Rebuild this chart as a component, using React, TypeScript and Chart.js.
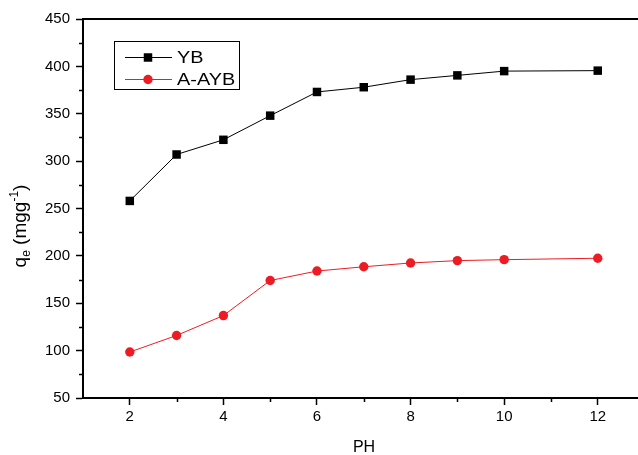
import React, { useEffect, useRef } from 'react';
import { Chart, registerables } from 'chart.js';

Chart.register(...registerables);

const phValues = [2, 3, 4, 5, 6, 7, 8, 9, 10, 12];
const ybValues = [258, 307, 322.5, 348, 373, 378, 386, 390.5, 395, 395.5];
const aaybValues = [98.5, 116, 137, 174, 184, 188.5, 192.5, 195, 196, 197.5];
const seriesNames = ['YB', 'A-AYB'];
const xTickValues = [2, 4, 6, 8, 10, 12];
const xMinorTickValues = [3, 5, 7, 9, 11];
const yMinorTickValues = [75, 125, 175, 225, 275, 325, 375, 425];
const xTitle = 'PH';

const FONT = '"Liberation Sans", Arial, sans-serif';
const RED = 'rgb(237,28,36)';

const decorPlugin = {
  id: 'decor',
  afterDraw(chart: any) {
    const { ctx, chartArea, scales } = chart;
    const xs = scales.x;
    const ys = scales.y;
    ctx.save();
    // top frame line
    ctx.strokeStyle = '#000';
    ctx.lineWidth = 2;
    ctx.beginPath();
    ctx.moveTo(chartArea.left - 1, chartArea.top);
    ctx.lineTo(chart.width, chartArea.top);
    ctx.stroke();
    // minor ticks
    ctx.lineWidth = 1.5;
    ctx.beginPath();
    xMinorTickValues.forEach((v) => {
      const px = Math.round(xs.getPixelForValue(v)) + 0.5;
      ctx.moveTo(px, chartArea.bottom);
      ctx.lineTo(px, chartArea.bottom + 4);
    });
    yMinorTickValues.forEach((v) => {
      const py = Math.round(ys.getPixelForValue(v)) + 0.5;
      ctx.moveTo(chartArea.left - 4, py);
      ctx.lineTo(chartArea.left, py);
    });
    ctx.stroke();

    // x title
    ctx.fillStyle = '#000';
    ctx.font = `16px ${FONT}`;
    ctx.textAlign = 'center';
    ctx.textBaseline = 'alphabetic';
    ctx.fillText(xTitle, 364, 452);

    // y title: q_e (mgg^-1)
    const big = `19px ${FONT}`;
    const small = `12px ${FONT}`;
    const parts = [
      { t: 'q', f: big, dy: 0 },
      { t: 'e', f: small, dy: 4 },
      { t: ' (mgg', f: big, dy: 0 },
      { t: '-1', f: small, dy: -8 },
      { t: ')', f: big, dy: 0 },
    ];
    let total = 0;
    parts.forEach((p) => {
      ctx.font = p.f;
      total += ctx.measureText(p.t).width;
    });
    ctx.save();
    ctx.translate(26, 226);
    ctx.rotate(-Math.PI / 2);
    ctx.textAlign = 'left';
    let cx = -total / 2;
    parts.forEach((p) => {
      ctx.font = p.f;
      ctx.fillText(p.t, cx, p.dy);
      cx += ctx.measureText(p.t).width;
    });
    ctx.restore();

    // legend
    const lx = 114.5, ly = 41.5, lw = 125, lh = 48;
    ctx.fillStyle = '#fff';
    ctx.fillRect(lx, ly, lw, lh);
    ctx.strokeStyle = '#000';
    ctx.lineWidth = 1;
    ctx.strokeRect(lx, ly, lw, lh);
    const rows = [57, 79];
    chart.data.datasets.forEach((ds: any, i: number) => {
      const y = rows[i];
      ctx.strokeStyle = ds.borderColor;
      ctx.lineWidth = 1;
      ctx.beginPath();
      ctx.moveTo(125, y + 0.5);
      ctx.lineTo(172, y + 0.5);
      ctx.stroke();
      ctx.fillStyle = ds.backgroundColor;
      if (ds.pointStyle === 'rect') {
        const s = ds.pointRadius * Math.SQRT1_2;
        ctx.fillRect(148 - s, y + 0.5 - s, 2 * s, 2 * s);
      } else {
        ctx.beginPath();
        ctx.arc(148, y + 0.5, ds.pointRadius, 0, Math.PI * 2);
        ctx.fill();
      }
      ctx.fillStyle = '#000';
      ctx.font = `17px ${FONT}`;
      ctx.textAlign = 'left';
      ctx.textBaseline = 'middle';
      ctx.save();
      ctx.translate(177, y + 1);
      ctx.scale(1.17, 1);
      ctx.fillText(ds.label, 0, 0);
      ctx.restore();
    });
    ctx.restore();
  },
};

export default function App() {
  const ref = useRef<HTMLCanvasElement>(null);
  useEffect(() => {
    document.body.style.margin = '0';
    const canvas = ref.current!;
    const tickFont = { family: FONT, size: 15 };
    const chart = new Chart(canvas, {
      type: 'line',
      data: {
        datasets: [
          {
            label: seriesNames[0],
            data: phValues.map((x, i) => ({ x, y: ybValues[i] })),
            borderColor: '#000',
            backgroundColor: '#000',
            borderWidth: 1,
            pointStyle: 'rect',
            pointRadius: 6,
            pointBorderWidth: 0,
            tension: 0,
          },
          {
            label: seriesNames[1],
            data: phValues.map((x, i) => ({ x, y: aaybValues[i] })),
            borderColor: RED,
            backgroundColor: RED,
            borderWidth: 1,
            pointStyle: 'circle',
            pointRadius: 4.7,
            pointBorderWidth: 0,
            tension: 0,
          },
        ],
      },
      options: {
        animation: false,
        responsive: false,
        maintainAspectRatio: false,
        layout: { autoPadding: false, padding: { top: 19, left: 0, right: 0, bottom: 0 } },
        plugins: { legend: { display: false }, tooltip: { enabled: false } },
        scales: {
          x: {
            type: 'linear',
            min: 1,
            max: 12.86,
            afterBuildTicks: (s: any) => {
              s.ticks = xTickValues.map((v) => ({ value: v }));
            },
            afterFit: (s: any) => {
              s.height = 57;
              s.paddingLeft = 0;
              s.paddingRight = 0;
            },
            ticks: { font: tickFont, color: '#000', padding: 3, maxRotation: 0, autoSkip: false },
            grid: { drawOnChartArea: false, tickLength: 7, tickColor: '#000', tickWidth: 1.5 },
            border: { color: '#000', width: 2 },
          },
          y: {
            type: 'linear',
            min: 50,
            max: 450,
            afterFit: (s: any) => {
              s.width = 83;
              s.paddingTop = 0;
              s.paddingBottom = 0;
            },
            ticks: { stepSize: 50, font: tickFont, color: '#000', padding: 6 },
            grid: { drawOnChartArea: false, tickLength: 7, tickColor: '#000', tickWidth: 1.5 },
            border: { color: '#000', width: 2 },
          },
        },
      },
      plugins: [decorPlugin],
    } as any);
    return () => chart.destroy();
  }, []);
  return <canvas ref={ref} width={638} height={455} style={{ display: 'block' }} />;
}
